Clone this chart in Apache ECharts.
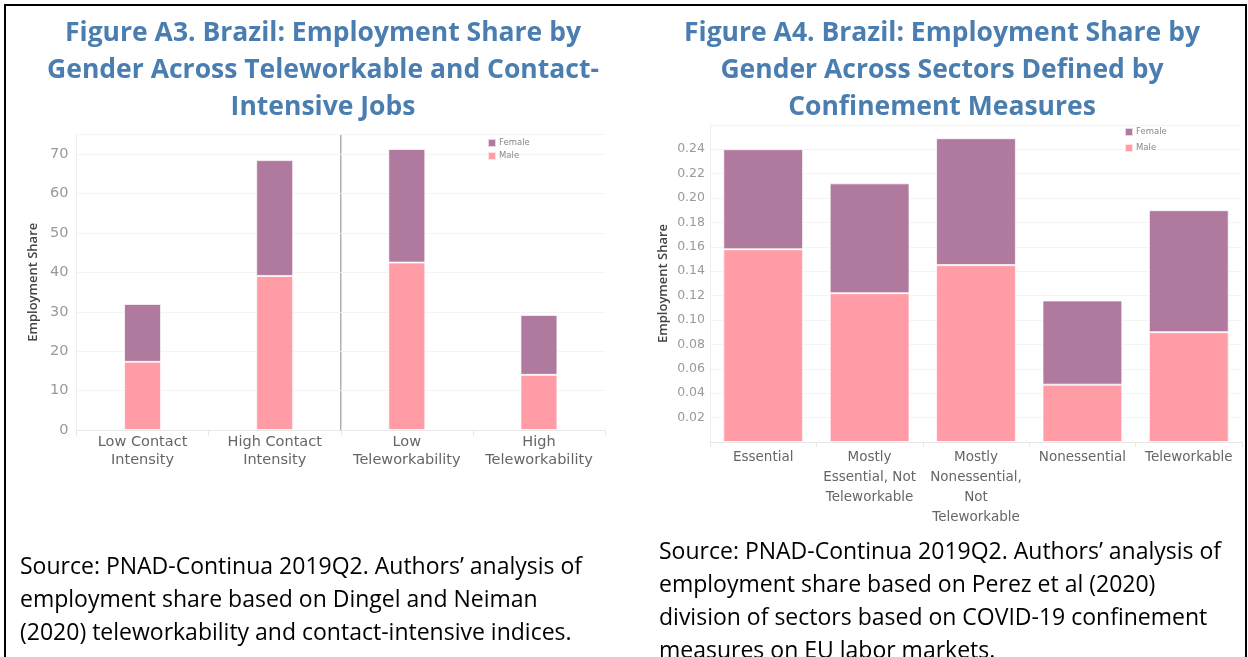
<!DOCTYPE html>
<html>
<head>
    <meta charset="utf-8">
    <title>Brazil employment share</title>
    <script src="https://cdn.jsdelivr.net/npm/echarts@6/dist/echarts.min.js"></script>
    <style>
        body { margin: 0; background: #fff; }
    </style>
</head>
<body>
    <div id="main" style="width: 1248px;height:657px;"></div>
    <script type="text/javascript">
        // A3: teleworkable / contact-intensive jobs (employment share, %)
        var leftCats = ['Low Contact\nIntensity', 'High Contact\nIntensity', 'Low\nTeleworkability', 'High\nTeleworkability'];
        var leftMale = [17.3, 39.1, 42.5, 14.0];
        var leftFemale = [14.7, 29.4, 28.8, 15.2];

        // A4: sectors by confinement measures (share)
        var rightCats = ['Essential', 'Mostly\nEssential, Not\nTeleworkable', 'Mostly\nNonessential,\nNot\nTeleworkable', 'Nonessential', 'Teleworkable'];
        var rightMale = [0.158, 0.122, 0.145, 0.047, 0.090];
        var rightFemale = [0.082, 0.090, 0.104, 0.069, 0.100];

        var titleLeft = 'Figure A3. Brazil: Employment Share by\nGender Across Teleworkable and Contact-\nIntensive Jobs';
        var titleRight = 'Figure A4. Brazil: Employment Share by\nGender Across Sectors Defined by\nConfinement Measures';
        var sourceLeft = 'Source: PNAD-Continua 2019Q2. Authors’ analysis of\nemployment share based on Dingel and Neiman\n(2020) teleworkability and contact-intensive indices.';
        var sourceRight = 'Source: PNAD-Continua 2019Q2. Authors’ analysis of\nemployment share based on Perez et al (2020)\ndivision of sectors based on COVID-19 confinement\nmeasures on EU labor markets.';

        var FEMALE = '#b0799e';
        var MALE = '#ff9ca6';
        var tickFont = 'DejaVu Sans';

        var myChart = echarts.init(document.getElementById('main'));

        var titleStyle = {
            fontFamily: 'Open Sans',
            fontWeight: 'bold',
            fontSize: 26.5,
            lineHeight: 37,
            color: '#4a7eb0'
        };

        function legendFor(idx, left, top, gap) {
            return {
                orient: 'vertical',
                left: left,
                top: top,
                itemWidth: 8,
                itemHeight: 8,
                itemGap: gap,
                icon: 'rect',
                data: idx === 0 ? ['Female', 'Male'] : ['Female ', 'Male '],
                textStyle: { fontFamily: tickFont, fontSize: 8.5, color: '#888', padding: [0, 0, 0, -2] }
            };
        }

        function barSeries(name, data, axis, stack, color, width) {
            return {
                name: name,
                type: 'bar',
                xAxisIndex: axis,
                yAxisIndex: axis,
                stack: stack,
                barWidth: width,
                data: data,
                itemStyle: { color: color, borderColor: 'rgba(255,255,255,0.7)', borderWidth: 1 }
            };
        }

        myChart.setOption({
            animation: false,
            title: [
                { text: titleLeft, left: 318, top: 10, textAlign: 'center', textStyle: titleStyle },
                { text: titleRight, left: 937, top: 10, textAlign: 'center', textStyle: titleStyle }
            ],
            legend: [
                legendFor(0, 482, 133, 3),
                legendFor(1, 1119, 122, 6)
            ],
            grid: [
                { left: 76.5, right: 643, top: 134.5, bottom: 227 },
                { left: 710, right: 6, top: 124.8, bottom: 215 }
            ],
            xAxis: [
                {
                    type: 'category',
                    gridIndex: 0,
                    data: leftCats,
                    axisLine: { lineStyle: { color: '#e8e8e8' } },
                    axisTick: { show: true, interval: 0, length: 6, lineStyle: { color: '#e8e8e8' } },
                    axisLabel: { interval: 0, margin: 3, fontFamily: tickFont, fontSize: 14.5, lineHeight: 18, color: '#666' }
                },
                {
                    type: 'category',
                    gridIndex: 1,
                    data: rightCats,
                    axisLine: { lineStyle: { color: '#e8e8e8' } },
                    axisTick: { show: true, interval: 0, length: 5, lineStyle: { color: '#e8e8e8' } },
                    axisLabel: { interval: 0, margin: 5, fontFamily: tickFont, fontSize: 13.5, lineHeight: 20, color: '#666' }
                }
            ],
            yAxis: [
                {
                    type: 'value',
                    gridIndex: 0,
                    min: 0,
                    max: 75,
                    interval: 10,
                    name: 'Employment Share',
                    nameLocation: 'middle',
                    nameGap: 37,
                    nameTextStyle: { fontFamily: 'Open Sans', fontSize: 13, fontWeight: 600, color: '#444' },
                    axisLine: { show: true, lineStyle: { color: '#eeeeee' } },
                    axisTick: { show: false },
                    axisLabel: { showMaxLabel: false, margin: 8, fontFamily: tickFont, fontSize: 14.5, color: '#999' },
                    splitLine: { lineStyle: { color: '#f4f4f4' } }
                },
                {
                    type: 'value',
                    gridIndex: 1,
                    min: 0,
                    max: 0.26,
                    interval: 0.02,
                    name: 'Employment Share',
                    nameLocation: 'middle',
                    nameGap: 40,
                    nameTextStyle: { fontFamily: 'Open Sans', fontSize: 13, fontWeight: 600, color: '#444' },
                    axisLine: { show: true, lineStyle: { color: '#eeeeee' } },
                    axisTick: { show: false },
                    axisLabel: {
                        showMaxLabel: false,
                        showMinLabel: false,
                        margin: 5,
                        fontFamily: tickFont,
                        fontSize: 12.5,
                        color: '#999',
                        formatter: function (v) { return v.toFixed(2); }
                    },
                    splitLine: { lineStyle: { color: '#f4f4f4' } }
                }
            ],
            series: [
                barSeries('Male', leftMale, 0, 'a3', MALE, '28%'),
                barSeries('Female', leftFemale, 0, 'a3', FEMALE, '28%'),
                barSeries('Male ', rightMale, 1, 'a4', MALE, '75%'),
                barSeries('Female ', rightFemale, 1, 'a4', FEMALE, '75%')
            ],
            graphic: [
                {
                    type: 'rect',
                    shape: { x: 5, y: 5, width: 1241, height: 670 },
                    style: { fill: null, stroke: '#000', lineWidth: 2 },
                    silent: true
                },
                {
                    type: 'text',
                    left: 20,
                    top: 551,
                    style: { text: sourceLeft, fontFamily: 'Open Sans', fontSize: 23, lineHeight: 33, fill: '#000' }
                },
                {
                    type: 'text',
                    left: 659,
                    top: 536,
                    style: { text: sourceRight, fontFamily: 'Open Sans', fontSize: 23, lineHeight: 33, fill: '#000' }
                }
            ]
        });

        // divider between contact-intensity and teleworkability groups, placed via the axes
        var xa = myChart.convertToPixel({ xAxisIndex: 0 }, 1);
        var xb = myChart.convertToPixel({ xAxisIndex: 0 }, 2);
        var yTop = myChart.convertToPixel({ yAxisIndex: 0 }, 75);
        var yBot = myChart.convertToPixel({ yAxisIndex: 0 }, 0);
        var xm = (xa + xb) / 2;
        myChart.setOption({
            graphic: [{
                type: 'line',
                id: 'divider',
                shape: { x1: xm, y1: yTop, x2: xm, y2: yBot },
                style: { stroke: '#b0b0b0', lineWidth: 1.5 },
                silent: true
            }]
        });
    </script>
</body>
</html>
